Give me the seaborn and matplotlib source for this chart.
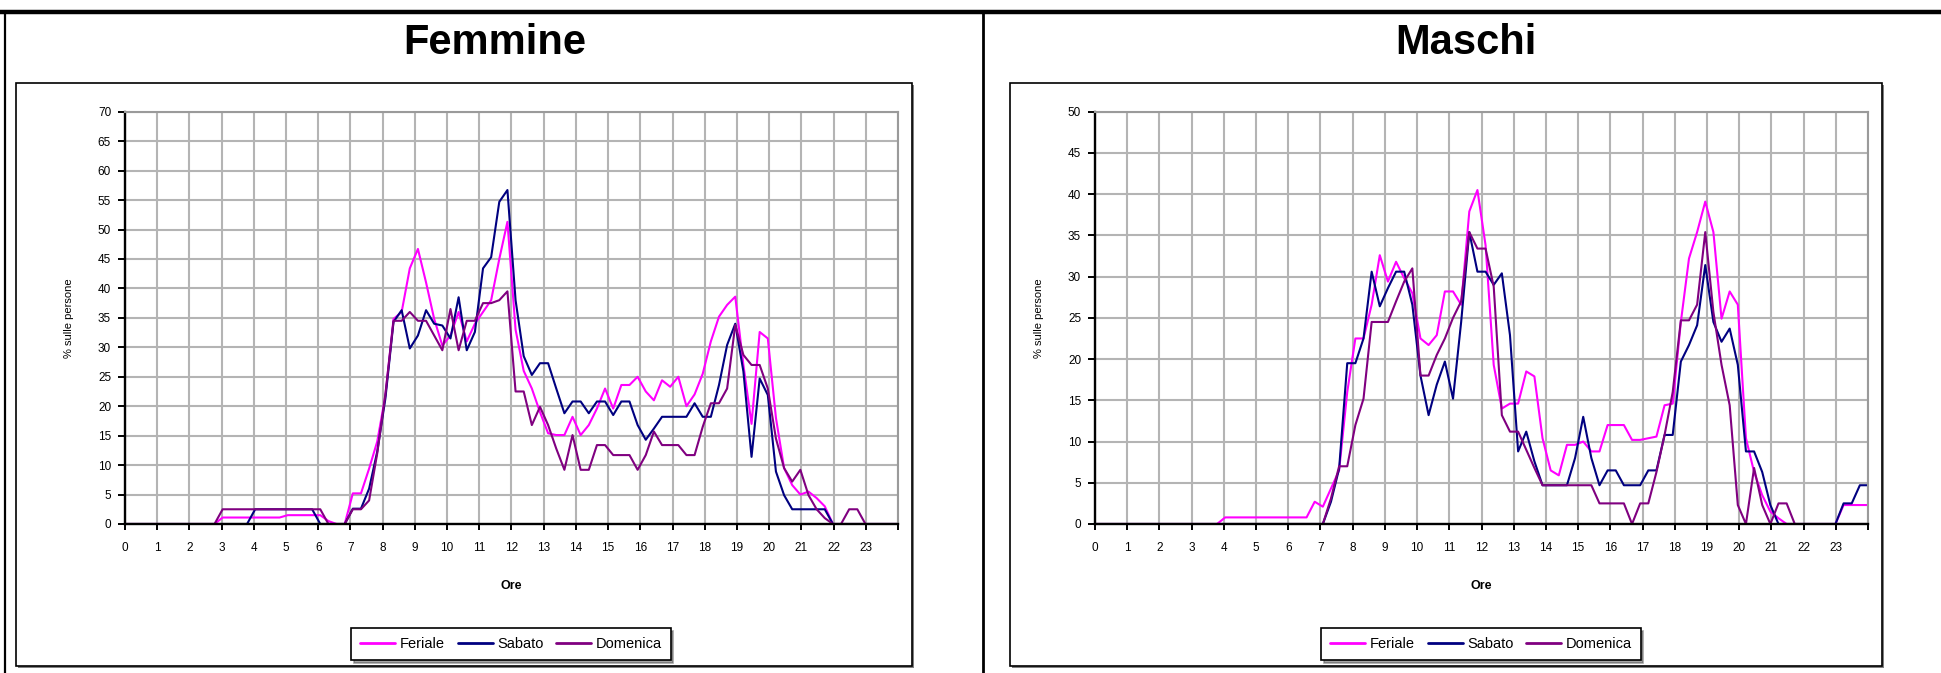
import numpy as np
import pandas as pd
import seaborn as sns
import matplotlib.pyplot as plt
from matplotlib.patches import Rectangle
from matplotlib.lines import Line2D

## data: one value every quarter of an hour (96 points)

ore = list(range(24))

femmine_feriale = [
    0, 0, 0, 0, 0, 0, 0, 0, 0, 0, 0, 0,
    1.1, 1.1, 1.1, 1.1, 1.1, 1.1, 1.1, 1.1, 1.5, 1.5, 1.5, 1.5,
    1.5, 0.5, 0, 0, 5.2, 5.2, 9.4, 14, 21.8, 34.8, 36, 43.4,
    46.7, 41, 34.8, 30.3, 32, 36, 31, 34, 36, 38, 45, 51.3,
    33, 26, 23, 19, 15.4, 15.1, 15.1, 18.2, 15.1, 16.8, 19.6, 23,
    19.6, 23.6, 23.6, 25, 22.5, 21, 24.4, 23.3, 25, 20, 22, 25.5,
    31, 35.2, 37.2, 38.6, 27, 17, 32.6, 31.5, 18, 9.5, 6.6, 5,
    5.5, 4.4, 3, 0, 0, 0, 0, 0, 0, 0, 0, 0,
]
femmine_sabato = [
    0, 0, 0, 0, 0, 0, 0, 0, 0, 0, 0, 0,
    0, 0, 0, 0, 2.5, 2.5, 2.5, 2.5, 2.5, 2.5, 2.5, 2.5,
    0, 0, 0, 0, 2.6, 2.6, 6, 12.3, 21.3, 34.3, 36.3, 29.8,
    32, 36.3, 34, 33.7, 31.5, 38.5, 29.5, 32.6, 43.4, 45.3, 54.7, 56.7,
    38, 28.5, 25.3, 27.3, 27.3, 23, 18.8, 20.8, 20.8, 18.8, 20.8, 20.8,
    18.5, 20.8, 20.8, 16.8, 14.3, 16.2, 18.2, 18.2, 18.2, 18.2, 20.5, 18.2,
    18.2, 23.6, 30.4, 34, 25.9, 11.4, 24.7, 21.9, 8.9, 4.9, 2.5, 2.5,
    2.5, 2.5, 2.5, 0, 0, 0, 0, 0, 0, 0, 0, 0,
]
femmine_domenica = [
    0, 0, 0, 0, 0, 0, 0, 0, 0, 0, 0, 0,
    2.5, 2.5, 2.5, 2.5, 2.5, 2.5, 2.5, 2.5, 2.5, 2.5, 2.5, 2.5,
    2.5, 0, 0, 0, 2.5, 2.5, 4, 12, 22, 34.5, 34.5, 36,
    34.5, 34.5, 32, 29.5, 36.5, 29.5, 34.5, 34.5, 37.5, 37.5, 38, 39.5,
    22.5, 22.5, 16.8, 19.9, 16.8, 12.8, 9.2, 15.1, 9.2, 9.2, 13.4, 13.4,
    11.7, 11.7, 11.7, 9.2, 11.7, 15.7, 13.4, 13.4, 13.4, 11.7, 11.7, 16.5,
    20.5, 20.5, 23, 33.8, 28.7, 27, 27, 23, 14.5, 9.5, 7.2, 9.2,
    4.9, 2.5, 1, 0, 0, 2.5, 2.5, 0, 0, 0, 0, 0,
]

maschi_feriale = [
    0, 0, 0, 0, 0, 0, 0, 0, 0, 0, 0, 0,
    0, 0, 0, 0, 0.8, 0.8, 0.8, 0.8, 0.8, 0.8, 0.8, 0.8,
    0.8, 0.8, 0.8, 2.7, 2.1, 4.3, 6.5, 16, 22.5, 22.5, 26.6, 32.6,
    29.4, 31.8, 29.8, 28, 22.5, 21.7, 22.9, 28.2, 28.2, 26.6, 37.9, 40.5,
    33.8, 19.3, 14, 14.6, 14.6, 18.5, 17.9, 10.4, 6.5, 5.9, 9.6, 9.6,
    10, 8.8, 8.8, 12, 12, 12, 10.2, 10.2, 10.4, 10.6, 14.4, 14.6,
    24.5, 32.2, 35.4, 39.1, 35.4, 24.9, 28.2, 26.6, 10.4, 6.3, 3.5, 1.5,
    0.7, 0, 0, 0, 0, 0, 0, 0, 2.3, 2.3, 2.3, 2.3,
]
maschi_sabato = [
    0, 0, 0, 0, 0, 0, 0, 0, 0, 0, 0, 0,
    0, 0, 0, 0, 0, 0, 0, 0, 0, 0, 0, 0,
    0, 0, 0, 0, 0, 2.7, 6.7, 19.5, 19.5, 22.5, 30.6, 26.4,
    28.6, 30.6, 30.6, 26.6, 18, 13.2, 16.9, 19.7, 15.2, 24.5, 35.4, 30.6,
    30.6, 29, 30.4, 22.9, 8.8, 11.2, 7.6, 4.7, 4.7, 4.7, 4.7, 8,
    13, 8, 4.7, 6.5, 6.5, 4.7, 4.7, 4.7, 6.5, 6.5, 10.8, 10.8,
    19.7, 21.7, 24.1, 31.4, 24.5, 22.1, 23.7, 19.3, 8.8, 8.8, 6.3, 2.3,
    0, 0, 0, 0, 0, 0, 0, 0, 2.5, 2.5, 4.7, 4.7,
]
maschi_domenica = [
    0, 0, 0, 0, 0, 0, 0, 0, 0, 0, 0, 0,
    0, 0, 0, 0, 0, 0, 0, 0, 0, 0, 0, 0,
    0, 0, 0, 0, 0, 3.1, 7, 7, 12, 15.2, 24.5, 24.5,
    24.5, 27, 29.4, 31, 18, 18, 20.5, 22.5, 25, 27, 35.4, 33.4,
    33.4, 28.8, 13.2, 11.2, 11.2, 9, 6.8, 4.7, 4.7, 4.7, 4.7, 4.7,
    4.7, 4.7, 2.5, 2.5, 2.5, 2.5, 0, 2.5, 2.5, 6.3, 10.8, 16,
    24.7, 24.7, 26.6, 35.4, 25.7, 19.3, 14.4, 2.3, 0, 6.8, 2.3, 0,
    2.5, 2.5, 0, 0, 0, 0, 0, 0, 0, 0, 0, 0,
]

serie = ["Feriale", "Sabato", "Domenica"]
colori = {"Feriale": "#ff00ff", "Sabato": "#000080", "Domenica": "#800080"}

sns.set_style("white")
plt.rcParams["font.family"] = ["Liberation Sans", "DejaVu Sans"]
plt.rcParams["text.color"] = "black"
plt.rcParams["axes.labelcolor"] = "black"
plt.rcParams["xtick.color"] = "black"
plt.rcParams["ytick.color"] = "black"

W, H = 1941, 673
fig = plt.figure(figsize=(W / 100, H / 100), dpi=100)


def fx(px):
    return px / W


def fy(py):
    return 1 - py / H


def make_df(fer, sab, dom):
    n = len(fer)
    df = pd.DataFrame({
        "idx": list(range(n)) * 3,
        "val": fer + sab + dom,
        "serie": ["Feriale"] * n + ["Sabato"] * n + ["Domenica"] * n,
    })
    return df


def panel(left_px, ymax, df, title, box, title_x):
    # chart area box (drawn under the axes)
    x0, x1, y0, y1 = box
    fig.add_artist(Rectangle((fx(x0) + 0.0012, fy(y1) - 0.003), fx(x1 - x0), (y1 - y0) / H,
                             transform=fig.transFigure, fill=True, fc="#808080",
                             ec="none", zorder=-3))
    fig.add_artist(Rectangle((fx(x0), fy(y1)), fx(x1 - x0), (y1 - y0) / H,
                             transform=fig.transFigure, fill=True, fc="white",
                             ec="black", lw=1.2, zorder=-2))

    ax = fig.add_axes([fx(left_px), fy(524), fx(773), 412.3 / H])
    sns.lineplot(data=df, x="idx", y="val", hue="serie", hue_order=serie,
                 palette=colori, ax=ax, legend=False, errorbar=None,
                 sort=False, linewidth=1.5)
    n = 96
    ax.set_xlim(0, n - 1)
    ax.set_ylim(0, ymax)
    xt = [h * (n - 1) / 24 for h in range(25)]
    ax.set_xticks(xt)
    ax.set_xticklabels([str(o) for o in ore] + [""], fontsize=8.5)
    ax.set_yticks(np.arange(0, ymax + 1, 5))
    ax.set_yticklabels([str(v) for v in range(0, ymax + 1, 5)], fontsize=8.5)
    ax.grid(True, color="#b4b4b4", linewidth=1.5)
    ax.set_axisbelow(True)
    for s in ["top", "right"]:
        ax.spines[s].set_color("#9a9a9a")
        ax.spines[s].set_linewidth(1.5)
    for s in ["left", "bottom"]:
        ax.spines[s].set_color("black")
        ax.spines[s].set_linewidth(1.7)
    ax.tick_params(axis="y", direction="out", length=5, width=1.4, pad=5, left=True)
    ax.tick_params(axis="x", direction="out", length=4, width=1.4, pad=9, bottom=True)
    ax.set_xlabel("Ore", fontsize=9, fontweight="bold")
    ax.xaxis.set_label_coords(0.5, -0.135)
    ax.set_ylabel("% sulle persone", fontsize=8)
    ax.yaxis.set_label_coords(-51 / 773, 0.5)

    handles = [Line2D([], [], color=colori[s], lw=2) for s in serie]
    leg = fig.legend(handles, serie, loc="center",
                     bbox_to_anchor=(fx(left_px + 386), fy(644)), ncol=3,
                     fontsize=10.5, frameon=True, fancybox=False, shadow=True,
                     handlelength=2.4, handletextpad=0.3, columnspacing=0.9,
                     borderpad=0.6)
    leg.get_frame().set_edgecolor("black")
    leg.get_frame().set_linewidth(1.2)

    fig.text(fx(title_x), fy(43), title, fontsize=30, fontweight="bold",
             ha="center", va="center")
    return ax


df_f = make_df(femmine_feriale, femmine_sabato, femmine_domenica)
df_m = make_df(maschi_feriale, maschi_sabato, maschi_domenica)

panel(125, 70, df_f, "Femmine", (16, 912, 83, 666), 495)
panel(1095, 50, df_m, "Maschi", (1010, 1882, 83, 666), 1466)

# outer table frame
fig.add_artist(Line2D([0, 1], [fy(12), fy(12)], transform=fig.transFigure,
                      color="black", lw=3.2))
fig.add_artist(Line2D([fx(5), fx(5)], [fy(12), 0], transform=fig.transFigure,
                      color="black", lw=1.6))
fig.add_artist(Line2D([fx(983), fx(983)], [fy(12), 0], transform=fig.transFigure,
                      color="black", lw=2.0))

fig.savefig("out.png", dpi=100, facecolor="white")
